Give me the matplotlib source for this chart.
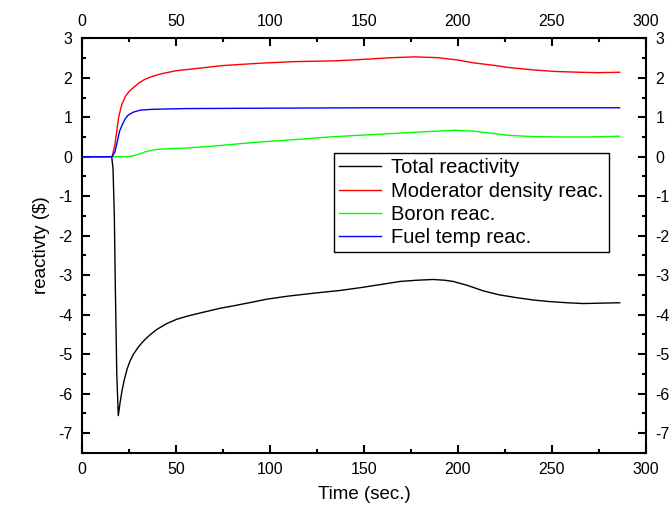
import numpy as np
import matplotlib.pyplot as plt
from matplotlib.ticker import MultipleLocator

plt.rcParams['font.family'] = ['Liberation Sans', 'DejaVu Sans']
plt.rcParams['axes.unicode_minus'] = False

# Total reactivity
t_tot = [0, 10, 15.8, 16.5, 17.2, 17.8, 18.5, 19.3, 20.2, 21.2, 22.5, 24.0, 25.6, 27.3, 30,
         32.7, 36, 39.7, 45, 50.3, 56, 62.8, 73.4, 80.4, 90, 98.2, 110, 124.8, 137, 147.8,
         160, 169.2, 178, 186.8, 193, 197.4, 205, 213.5, 222, 231, 240, 248.6, 258, 266.7,
         276, 286]
rho_tot = [0, 0, 0, -0.3, -1.5, -3.5, -5.5, -6.56, -6.25, -5.95, -5.65, -5.38, -5.17, -5.01,
           -4.82, -4.67, -4.52, -4.38, -4.23, -4.12, -4.04, -3.96, -3.84, -3.78, -3.69, -3.61,
           -3.53, -3.45, -3.39, -3.32, -3.23, -3.16, -3.13, -3.11, -3.13, -3.16, -3.26, -3.40,
           -3.50, -3.57, -3.63, -3.67, -3.70, -3.72, -3.71, -3.70]

# Moderator density reac.
t_mod = [0, 10, 16, 17.5, 18.5, 19.5, 21, 23, 25, 27.3, 30, 33, 37, 42, 50.2, 60, 75, 95,
         113, 135, 151, 165, 177, 189, 200, 208, 220, 227, 240, 251.5, 265, 274.5, 286]
rho_mod = [0, 0, 0, 0.3, 0.65, 1.0, 1.3, 1.52, 1.65, 1.75, 1.86, 1.95, 2.03, 2.1, 2.18, 2.23,
           2.31, 2.37, 2.41, 2.43, 2.47, 2.51, 2.53, 2.51, 2.45, 2.38, 2.31, 2.26, 2.2, 2.16,
           2.14, 2.13, 2.14]

# Boron reac.
t_bor = [0, 10, 23.4, 27, 30, 34, 39, 45, 55.6, 70, 93.6, 112, 131.6, 150, 169.7, 185, 198,
         207.7, 217, 227, 240, 255.5, 270, 286]
rho_bor = [0, 0, 0, 0.02, 0.06, 0.13, 0.18, 0.2, 0.22, 0.27, 0.37, 0.43, 0.5, 0.55, 0.6, 0.64,
           0.67, 0.65, 0.6, 0.54, 0.51, 0.5, 0.5, 0.52]

# Fuel temp reac.
t_fuel = [0, 10, 16, 17.5, 18.9, 20, 21.7, 23, 24.5, 27.3, 31, 37, 45, 55.6, 100, 150, 200,
          250, 286]
rho_fuel = [0, 0, 0, 0.12, 0.41, 0.65, 0.84, 0.96, 1.05, 1.13, 1.18, 1.2, 1.21, 1.22, 1.23,
            1.24, 1.24, 1.24, 1.24]

fig = plt.figure(figsize=(6.71, 5.13), dpi=100)
ax = fig.add_axes([0.1222, 0.1175, 0.8405, 0.8078])

ax.plot(t_tot, rho_tot, color='black', lw=1, label='Total reactivity')
ax.plot(t_mod, rho_mod, color='red', lw=1, label='Moderator density reac.')
ax.plot(t_bor, rho_bor, color='#00ff00', lw=1, label='Boron reac.')
ax.plot(t_fuel, rho_fuel, color='blue', lw=1, label='Fuel temp reac.')

ax.set_xlim(0, 300)
ax.set_ylim(-7.5, 3)
ax.xaxis.set_major_locator(MultipleLocator(50))
ax.xaxis.set_minor_locator(MultipleLocator(25))
ax.yaxis.set_major_locator(MultipleLocator(1))
ax.yaxis.set_minor_locator(MultipleLocator(0.5))
ax.tick_params(which='both', direction='in', top=True, right=True,
               labeltop=True, labelright=True, width=1.5, labelsize=11.5, pad=7)
ax.tick_params(which='major', length=6)
ax.tick_params(which='minor', length=3)
for s in ax.spines.values():
    s.set_linewidth(1.5)

ax.set_xlabel('Time (sec.)', fontsize=13.5, labelpad=6)
ax.set_ylabel(r'reactivty (\$)', fontsize=13.5, labelpad=6)

leg = ax.legend(loc='upper left', bbox_to_anchor=(0.447, 0.723), fontsize=14.5,
                fancybox=False, framealpha=1, edgecolor='black', handlelength=2.1,
                borderpad=0.25, labelspacing=0.22, handletextpad=0.5, borderaxespad=0)
leg.get_frame().set_linewidth(1)

plt.savefig('out.png', dpi=100)
